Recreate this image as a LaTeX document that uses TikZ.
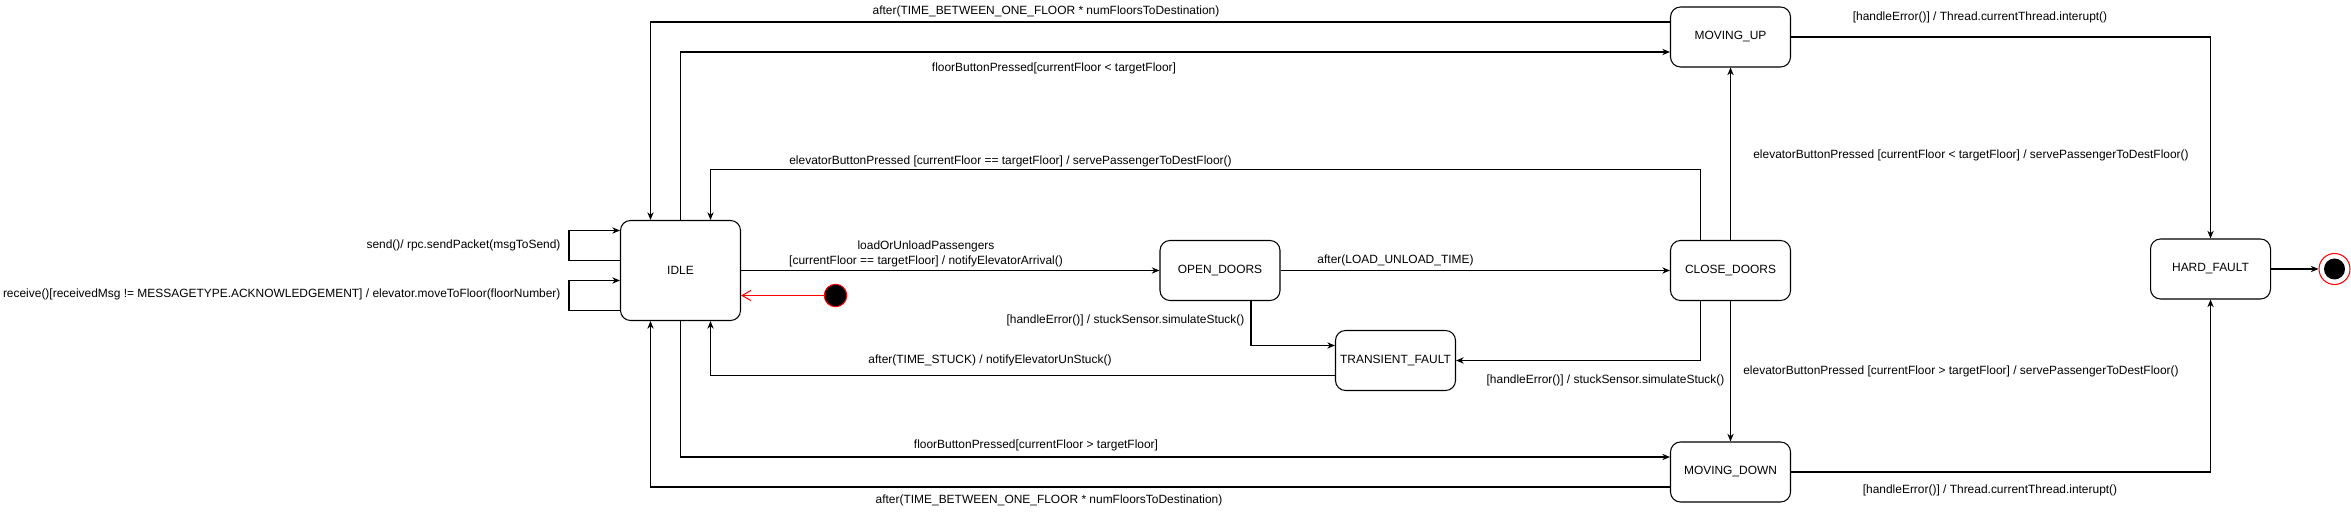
\documentclass[tikz,border=0pt]{standalone}
\usepackage{fontspec}
\setmainfont{Liberation Sans}
\usepackage{tikz}
\usetikzlibrary{arrows.meta,positioning}

\begin{document}
\begin{tikzpicture}[
      every node/.style={font=\fontsize{6.8}{8.5}\selectfont},
      state/.style={draw,rounded corners=0.2cm,minimum width=2.4cm,minimum height=1.2cm,inner sep=0pt,line width=0.6pt},
      lbl/.style={inner sep=0pt,align=center},
      line width=0.6pt,
      ->,>={Stealth[length=4.4pt,width=3.6pt]}]
      \useasboundingbox (0,0) rectangle (47.02,10.36);
      % states
      \node[state,minimum height=2cm] (idle) at (13.61,4.95) {IDLE};
      \node[state] (opend) at (24.40,4.95) {OPEN\_DOORS};
      \node[state] (closed) at (34.61,4.95) {CLOSE\_DOORS};
      \node[state] (mup) at (34.61,9.62) {MOVING\_UP};
      \node[state] (mdown) at (34.61,0.92) {MOVING\_DOWN};
      \node[state] (tfault) at (27.91,3.15) {TRANSIENT\_FAULT};
      \node[state] (hfault) at (44.21,4.98) {HARD\_FAULT};
      \node[draw=red,fill=black,circle,minimum size=0.45cm,inner sep=0pt] (init) at (16.71,4.45) {};
      \node[draw=red,fill=white,circle,minimum size=0.62cm,inner sep=0pt] (fin) at (46.69,4.98) {};
      \node[fill=black,circle,minimum size=0.42cm,inner sep=0pt] (fincore) at (fin) {};
      % transition labels
      \node[lbl,anchor=east] (tsend) at (11.22,5.46) {send()/ rpc.sendPacket(msgToSend)};
      \node[lbl,anchor=east] (trecv) at (11.22,4.48) {receive()[receivedMsg != MESSAGETYPE.ACKNOWLEDGEMENT] / elevator.moveToFloor(floorNumber)};
      \node[lbl] (tload) at (18.52,5.28) {loadOrUnloadPassengers\\{}[currentFloor == targetFloor] / notifyElevatorArrival()};
      \node[lbl] (tlut) at (27.91,5.16) {after(LOAD\_UNLOAD\_TIME)};
      \node[lbl] (terrod) at (22.51,3.96) {[handleError()] / stuckSensor.simulateStuck()};
      \node[lbl] (tstuck) at (19.80,3.16) {after(TIME\_STUCK) / notifyElevatorUnStuck()};
      \node[lbl] (terrcd) at (32.11,2.76) {[handleError()] / stuckSensor.simulateStuck()};
      \node[lbl] (tbtneq) at (20.21,7.14) {elevatorButtonPressed [currentFloor == targetFloor] / servePassengerToDestFloor()};
      \node[lbl] (tafterup) at (20.92,10.14) {after(TIME\_BETWEEN\_ONE\_FLOOR * numFloorsToDestination)};
      \node[lbl] (tfloorup) at (21.08,9.00) {floorButtonPressed[currentFloor < targetFloor]};
      \node[lbl] (thfup) at (39.60,10.02) {[handleError()] / Thread.currentThread.interupt()};
      \node[lbl] (tbtnup) at (39.42,7.26) {elevatorButtonPressed [currentFloor < targetFloor] / servePassengerToDestFloor()};
      \node[lbl] (tbtndown) at (39.22,2.94) {elevatorButtonPressed [currentFloor > targetFloor] / servePassengerToDestFloor()};
      \node[lbl] (tfloordown) at (20.72,1.46) {floorButtonPressed[currentFloor > targetFloor]};
      \node[lbl] (tafterdown) at (20.98,0.36) {after(TIME\_BETWEEN\_ONE\_FLOOR * numFloorsToDestination)};
      \node[lbl] (thfdown) at (39.80,0.56) {[handleError()] / Thread.currentThread.interupt()};
      % transitions
      \draw ([yshift=0.2cm]idle.west) -- ++(-1.02,0) |- ([yshift=0.8cm]idle.west);
      \draw ([yshift=-0.8cm]idle.west) -- ++(-1.02,0) |- ([yshift=-0.2cm]idle.west);
      \draw[red,-{Straight Barb[length=5pt,width=5.7pt]}] (init) -- (idle.east |- init);
      \draw (idle.east) -- (opend.west);
      \draw (opend.east) -- (closed.west);
      \draw ([yshift=0.3cm]mup.west) -| ([xshift=-0.6cm]idle.north);
      \draw (idle.north) |- ([yshift=-0.3cm]mup.west);
      \draw ([xshift=-0.6cm]closed.north) -- ++(0,1.41) -| ([xshift=0.6cm]idle.north);
      \draw (closed.north) -- (mup.south);
      \draw (closed.south) -- (mdown.north);
      \draw ([xshift=-0.6cm]closed.south) |- (tfault.east);
      \draw ([xshift=0.62cm]opend.south) |- ([yshift=0.3cm]tfault.west);
      \draw ([yshift=-0.3cm]tfault.west) -| ([xshift=0.6cm]idle.south);
      \draw (idle.south) |- ([yshift=0.3cm]mdown.west);
      \draw ([yshift=-0.3cm]mdown.west) -| ([xshift=-0.6cm]idle.south);
      \draw (mup.east) -| (hfault.north);
      \draw (mdown.east) -| (hfault.south);
      \draw (hfault.east) -- (fin.west);
    \end{tikzpicture}
\end{document}
